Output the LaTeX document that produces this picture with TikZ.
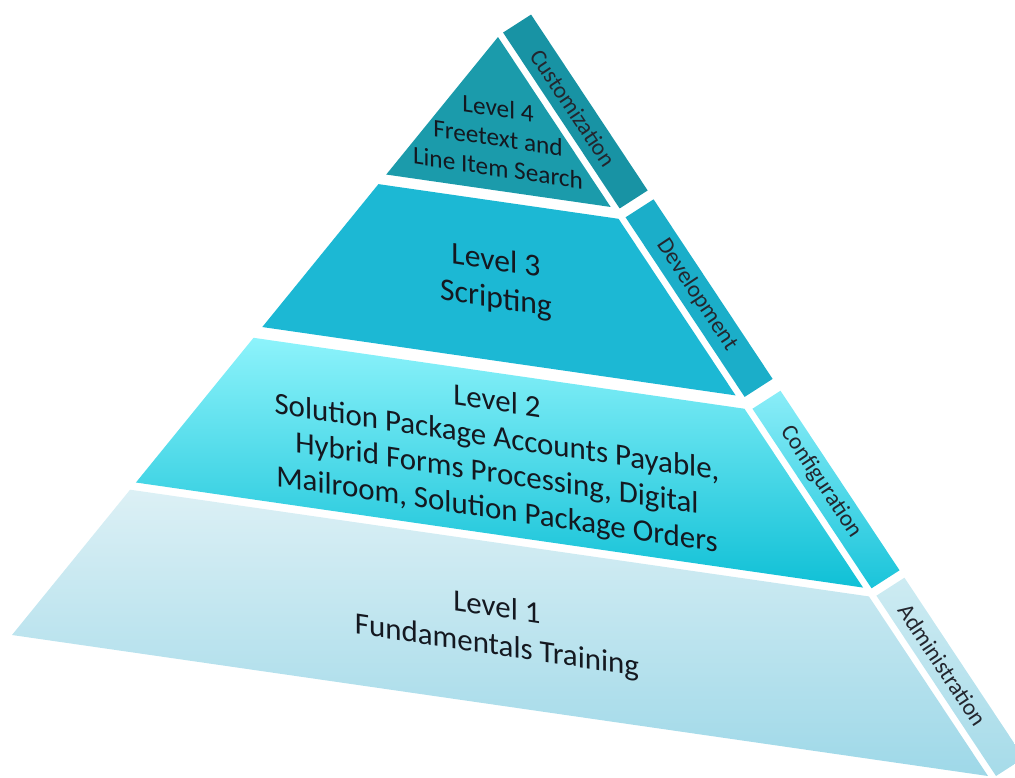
\documentclass[tikz,border=0pt]{standalone}
\usepackage{fontspec}
\setmainfont{Carlito}
\usetikzlibrary{calc}

\definecolor{ink}{HTML}{141820}
\definecolor{inkside}{HTML}{23262E}
\definecolor{lvlfour}{HTML}{1B9BAB}
\definecolor{custband}{HTML}{1893A4}
\definecolor{lvlthree}{HTML}{1CB8D4}
\definecolor{devband}{HTML}{1BAEC9}
\definecolor{lvltwotop}{HTML}{8DF3FB}
\definecolor{lvltwobot}{HTML}{10C0D6}
\definecolor{conftop}{HTML}{8AEDF8}
\definecolor{confbot}{HTML}{1AC4DA}
\definecolor{lvlonetop}{HTML}{DCF0F5}
\definecolor{lvlonebot}{HTML}{9ED8E8}
\definecolor{admintop}{HTML}{CDEBF2}
\definecolor{adminbot}{HTML}{A6DBE9}

\begin{document}
\begin{tikzpicture}[x=0.02cm,y=-0.02cm]
\tikzstyle{every node}=[text=ink, align=center, inner sep=0pt]
\tikzstyle{level}=[yslant=-0.15]
\tikzstyle{side}=[rotate=-56.4, text=inkside, font=\fontsize{13.3}{15}\selectfont]

\useasboundingbox (0,0) rectangle (1015,778);

\coordinate (A) at (498,37);
\coordinate (L) at (12,635);
\coordinate (R) at (988,776);

% front face, top to bottom
\fill[lvlfour] (A) -- ($(A)!0.230!(L)$) -- ($(A)!0.230!(R)$) -- cycle;
\fill[lvlthree] ($(A)!0.246!(L)$) -- ($(A)!0.485!(L)$) -- ($(A)!0.485!(R)$) -- ($(A)!0.246!(R)$) -- cycle;
\shade[top color=lvltwotop, bottom color=lvltwobot] ($(A)!0.503!(L)$) -- ($(A)!0.745!(L)$)
    -- ($(A)!0.745!(R)$) -- ($(A)!0.503!(R)$) -- cycle;
\shade[top color=lvlonetop, bottom color=lvlonebot] ($(A)!0.757!(L)$) -- (L) -- (R) -- ($(A)!0.757!(R)$) -- cycle;

% side bands
\fill[custband] ($(A)!-0.006!(R)+(8,0)$) -- ($(A)!0.232!(R)+(8,0)$)
    -- ($(A)!0.232!(R)+(36,-18)$) -- ($(A)!-0.006!(R)+(36,-18)$) -- cycle;
\fill[devband] ($(A)!0.244!(R)+(8,0)$) -- ($(A)!0.487!(R)+(8,0)$)
    -- ($(A)!0.487!(R)+(36,-18)$) -- ($(A)!0.244!(R)+(36,-18)$) -- cycle;
\shade[top color=conftop, bottom color=confbot] ($(A)!0.503!(R)+(8,0)$) -- ($(A)!0.746!(R)+(8,0)$)
    -- ($(A)!0.746!(R)+(36,-18)$) -- ($(A)!0.503!(R)+(36,-18)$) -- cycle;
\shade[top color=admintop, bottom color=adminbot] ($(A)!0.756!(R)+(8,0)$) -- ($(A)!1.0!(R)+(8,0)$)
    -- ($(A)!1.0!(R)+(36,-18)$) -- ($(A)!0.756!(R)+(36,-18)$) -- cycle;

% labels
\node[level, font=\fontsize{14.4}{17}\selectfont] (lfour) at (498,138) {Level 4\\Freetext and\\Line Item Search};
\node[level, font=\fontsize{18}{21.5}\selectfont] (lthree) at (496,281) {Level 3\\Scripting};
\node[level, font=\fontsize{17.6}{20.5}\selectfont] (ltwo) at (497,457)
    {Level 2\\Solution Package Accounts Payable,\\Hybrid Forms Processing, Digital\\Mailroom, Solution Package Orders};
\node[level, font=\fontsize{17.6}{21.5}\selectfont] (lone) at (497,628) {Level 1\\Fundamentals Training};

\node[side] (cust) at ($(A)!0.108!(R)+(22,-9)$) {Customization};
\node[side] (dev) at ($(A)!0.361!(R)+(22,-9)$) {Development};
\node[side] (conf) at ($(A)!0.614!(R)+(22,-9)$) {Configuration};
\node[side] (admin) at ($(A)!0.862!(R)+(22,-9)$) {Administration};
\end{tikzpicture}
\end{document}
